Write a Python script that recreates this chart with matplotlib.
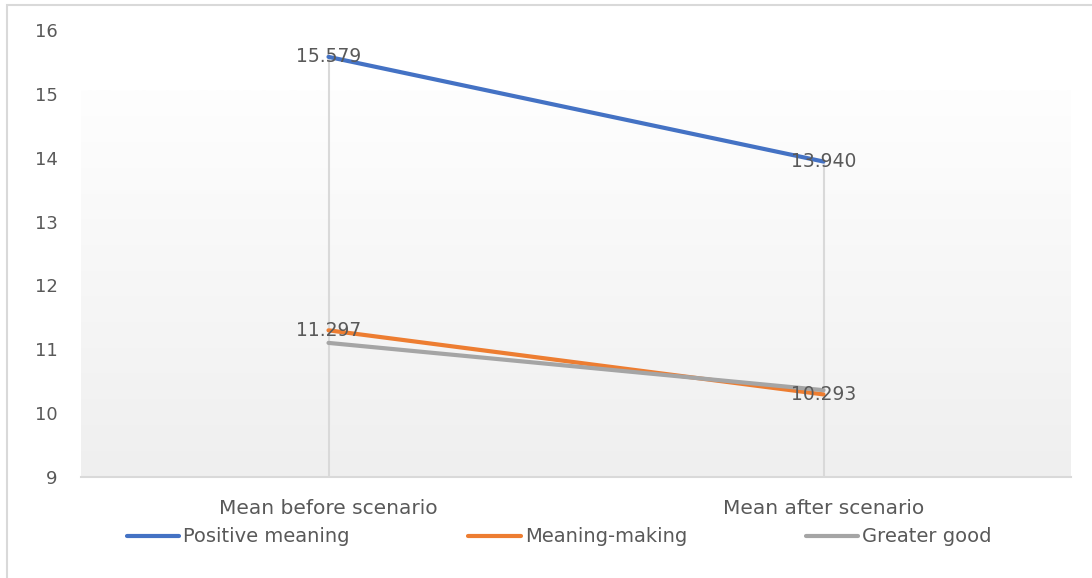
import numpy as np
import matplotlib.pyplot as plt
from matplotlib.patches import Rectangle
from matplotlib.colors import LinearSegmentedColormap

# Dados
categorias = ['Mean before scenario', 'Mean after scenario']
positive_meaning = [15.579, 13.940]
meaning_making = [11.297, 10.293]
greater_good = [11.10, 10.36]
yticks = [9, 10, 11, 12, 13, 14, 15, 16]

series = [
    ('Positive meaning', positive_meaning, '#4472C4'),
    ('Meaning-making', meaning_making, '#ED7D31'),
    ('Greater good', greater_good, '#A5A5A5'),
]

texto = '#595959'
plt.rcParams['font.family'] = 'DejaVu Sans'

fig = plt.figure(figsize=(10.92, 5.78), dpi=100)
fig.patches.append(Rectangle((7 / 1092, -0.1), 1.2, 1 - 5 / 578 + 0.1,
                             transform=fig.transFigure, fill=False,
                             edgecolor='#d9d9d9', linewidth=1.5))

ax = fig.add_axes([81 / 1092, 1 - 477 / 578, 990 / 1092, 447 / 578])
x = np.arange(len(categorias))
ax.set_xlim(-0.5, 1.5)
ax.set_ylim(9, 16)

# Fundo em degradê
grad = np.linspace(0, 1, 256).reshape(-1, 1)
cmap = LinearSegmentedColormap.from_list('fundo', ['#efefef', '#fefefe'])
ax.imshow(grad, extent=[-0.5, 1.5, 9, 15.06], origin='lower', cmap=cmap,
          aspect='auto', zorder=0)

# Linhas de queda
topo = np.max([s[1] for s in series], axis=0)
ax.vlines(x, 9, topo, color='#d9d9d9', linewidth=1.5, zorder=1)

for nome, valores, cor in series:
    ax.plot(x, valores, color=cor, linewidth=3, label=nome,
            solid_capstyle='round', zorder=3)

# Rótulos de dados
for valores in (positive_meaning, meaning_making):
    for xi, v in zip(x, valores):
        ax.text(xi, v, f'{v:.3f}', ha='center', va='center',
                fontsize=13.5, color=texto, zorder=4)

for lado in ['top', 'right', 'left']:
    ax.spines[lado].set_visible(False)
ax.spines['bottom'].set_color('#d9d9d9')
ax.spines['bottom'].set_linewidth(1.5)

ax.set_xticks(x)
ax.set_xticklabels(categorias, fontsize=14.5, color=texto)
ax.set_yticks(yticks)
ax.set_yticklabels([str(t) for t in yticks], fontsize=13, color=texto)
ax.tick_params(axis='both', length=0)
ax.tick_params(axis='y', pad=17)
ax.tick_params(axis='x', pad=16)

fig.legend(loc='center', bbox_to_anchor=(0.512, 1 - 537 / 578), ncol=3,
           frameon=False, fontsize=14, labelcolor=texto, handlelength=2.7,
           handletextpad=0.2, columnspacing=6.1)

plt.savefig('out.png', dpi=100)
